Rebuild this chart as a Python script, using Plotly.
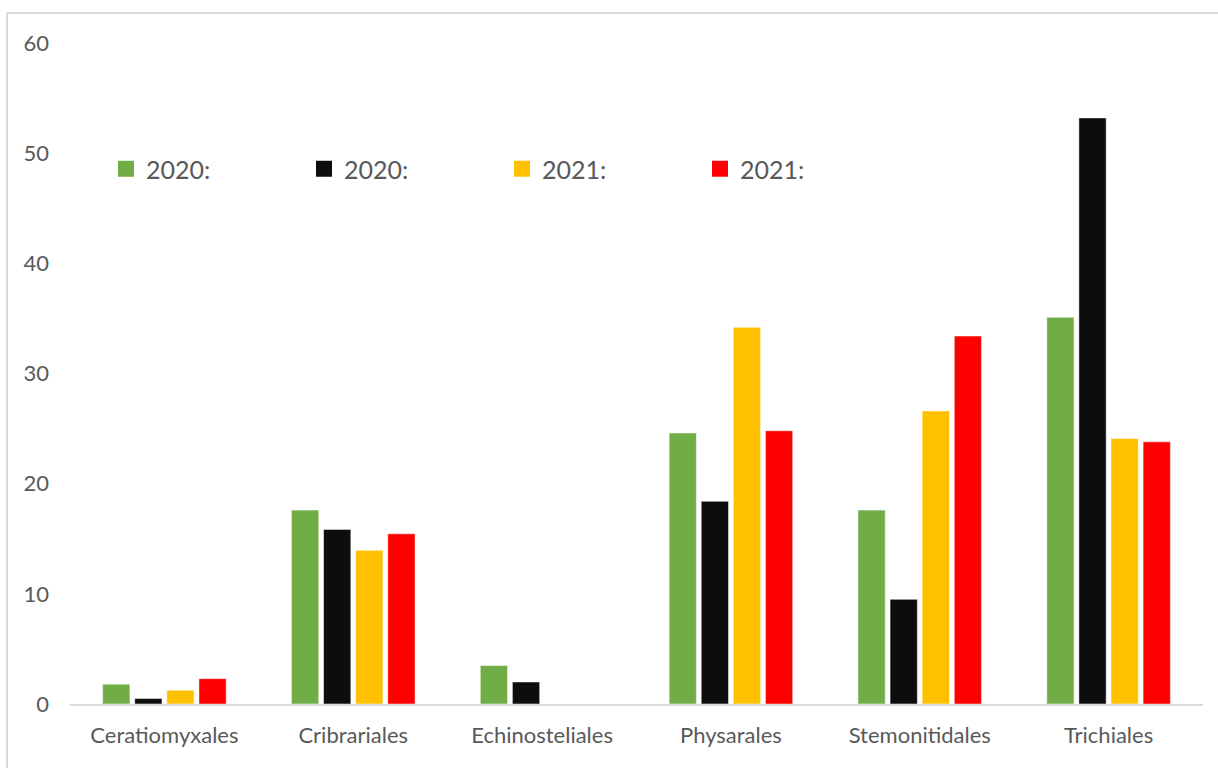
import plotly.graph_objects as go

# Myxomycete orders and the share of records per season
orders = ["Ceratiomyxales", "Cribrariales", "Echinosteliales",
          "Physarales", "Stemonitidales", "Trichiales"]
series_names = ["2020:", "2020:", "2021:", "2021:"]
green_2020 = [1.8, 17.6, 3.5, 24.6, 17.6, 35.1]
black_2020 = [0.5, 15.85, 2.0, 18.4, 9.5, 53.2]
yellow_2021 = [1.25, 13.95, 0, 34.2, 26.6, 24.1]
red_2021 = [2.3, 15.45, 0, 24.8, 33.4, 23.8]
y_ticks = [0, 10, 20, 30, 40, 50, 60]

colors = ["#70AD47", "#0D0D0D", "#FFC000", "#FF0000"]
values = [green_2020, black_2020, yellow_2021, red_2021]

W, H = 1218, 768
ML, MR, MT, MB = 70, 15, 43, 64
FONT = "Lato"
TEXT = "#595959"

fig = go.Figure()
for i, (name, vals, col) in enumerate(zip(series_names, values, colors)):
    fig.add_trace(go.Bar(
        x=orders, y=vals, name=name, marker_color=col,
        marker_line=dict(color="rgba(255,255,255,0.5)", width=1),
        showlegend=False, legendgroup=f"s{i}",
    ))
    # legend proxy with a larger square swatch
    fig.add_trace(go.Scatter(
        x=[None], y=[None], mode="markers", name=name,
        marker=dict(symbol="square", size=16, color=col),
        legendgroup=f"s{i}", showlegend=True,
    ))

# page frame (top and left rules)
pw = W - ML - MR
ph = H - MT - MB
fx = (7 - ML) / pw
fy = 1 + (MT - 13) / ph
fig.add_shape(type="line", xref="paper", yref="paper",
              x0=fx, x1=(W - ML) / pw, y0=fy, y1=fy,
              line=dict(color="#D9D9D9", width=2))
fig.add_shape(type="line", xref="paper", yref="paper",
              x0=fx, x1=fx, y0=fy, y1=-MB / ph,
              line=dict(color="#D9D9D9", width=2))

fig.update_layout(
    width=W, height=H,
    margin=dict(l=ML, r=MR, t=MT, b=MB),
    paper_bgcolor="white", plot_bgcolor="white",
    barmode="group", bargap=0.32, bargroupgap=0.15,
    font=dict(family=FONT, color=TEXT, size=22),
    legend=dict(
        orientation="h", x=(118 - ML - 12) / pw, y=1 - (169 - MT) / ph,
        xanchor="left", yanchor="middle",
        font=dict(size=25, color=TEXT, family=FONT),
        entrywidth=153, entrywidthmode="pixels",
        itemwidth=30, bgcolor="rgba(0,0,0,0)",
    ),
    xaxis=dict(
        showline=True, linecolor="#D9D9D9", linewidth=2,
        showgrid=False, ticks="", ticklabelstandoff=11,
        tickfont=dict(size=22, color=TEXT, family=FONT),
    ),
    yaxis=dict(
        range=[0, 60], tickvals=y_ticks, showgrid=False,
        zeroline=False, showline=False, ticks="",
        ticklabelstandoff=20,
        tickfont=dict(size=22, color=TEXT, family=FONT),
    ),
)

fig.write_html("out.html")
